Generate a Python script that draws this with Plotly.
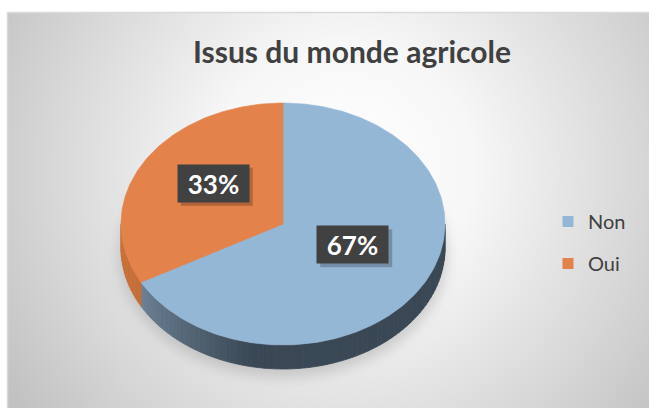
import math
import base64
import plotly.graph_objects as go

# ---------------- data ----------------
categories = ["Non", "Oui"]
values = [67, 33]
top_colors = ["#95b7d6", "#e3824a"]
title_text = "Issus du monde agricole"

# ---------------- geometry / style (pixel space) ----------------
W, H = 649, 408
CX, CY = 283.0, 224.0      # centre of the pie's top face
RX, RY = 162.0, 121.0      # ellipse radii of the top face
DEPTH = 24.0               # thickness of the 3-D pie
LABEL_FRAC = 0.5
LABEL_DY = -10.0

def pt(t_deg, dy=0.0, f=1.0):
    t = math.radians(t_deg)
    return CX + RX * f * math.sin(t), CY - RY * f * math.cos(t) + dy

def hex2rgb(h):
    h = h.lstrip("#")
    return tuple(int(h[i:i + 2], 16) for i in (0, 2, 4))

def mix(c1, c2, a):
    r1, r2 = hex2rgb(c1), hex2rgb(c2)
    return "#%02x%02x%02x" % tuple(round(r1[i] + (r2[i] - r1[i]) * a) for i in range(3))

total = float(sum(values))
bounds = []
acc = 0.0
for v in values:
    a0 = acc / total * 360.0
    acc += v
    bounds.append((a0, acc / total * 360.0))

fig = go.Figure()

# ---------------- background card (radial gradient, as svg image) ----------------
svg = f"""<svg xmlns='http://www.w3.org/2000/svg' width='{W}' height='{H}' viewBox='0 0 {W} {H}'>
<defs>
<radialGradient id='g' gradientUnits='userSpaceOnUse' cx='345' cy='170' r='400'>
<stop offset='0' stop-color='#ffffff'/>
<stop offset='0.32' stop-color='#f7f7f7'/>
<stop offset='0.75' stop-color='#d6d6d6'/>
<stop offset='1' stop-color='#c2c2c2'/>
</radialGradient>
<filter id='b' x='-30%' y='-30%' width='160%' height='160%'><feGaussianBlur stdDeviation='7'/></filter>
</defs>
<rect x='0' y='0' width='{W}' height='{H}' fill='#ffffff'/>
<rect x='7.5' y='12.5' width='{W}' height='{H}' fill='url(#g)' stroke='#dadada' stroke-width='1.5'/>
<ellipse cx='{CX}' cy='{CY + DEPTH + 6}' rx='{RX + 2}' ry='{RY + 2}' fill='#9a9a9a' fill-opacity='0.45' filter='url(#b)'/>
</svg>"""
src = "data:image/svg+xml;base64," + base64.b64encode(svg.encode()).decode()

# ---------------- pie side walls (visible lower half: 90..270 deg) ----------------
side_base = ["#3a4855", "#b5622c"]
side_light = ["#7990a5", "#c9713a"]
for i, (a0, a1) in enumerate(bounds):
    lo, hi = max(a0, 90.0), min(a1, 270.0)
    if hi <= lo:
        continue
    nseg = max(2, int((hi - lo) / 2))
    for s in range(nseg):
        t0 = lo + (hi - lo) * s / nseg
        t1 = lo + (hi - lo) * (s + 1) / nseg
        ts = [t0 + (t1 - t0) * k / 4 for k in range(5)]
        top = [pt(t) for t in ts]
        bot = [pt(t, DEPTH) for t in reversed(ts)]
        xs = [p[0] for p in top + bot] + [top[0][0]]
        ys = [p[1] for p in top + bot] + [top[0][1]]
        xm = pt((t0 + t1) / 2)[0]
        # lighter towards the left edge of the pie
        a = min(1.0, max(0.0, (xm - (CX - RX)) / 130.0))
        col = mix(side_light[i], side_base[i], a ** 0.8)
        fig.add_trace(go.Scatter(x=xs, y=ys, mode="lines", fill="toself",
                                 fillcolor=col, line=dict(color=col, width=0.8),
                                 hoverinfo="skip", showlegend=False,
                                 legendgroup=categories[i]))

# ---------------- pie top face ----------------
for i, (a0, a1) in enumerate(bounds):
    n = max(8, int(a1 - a0))
    ts = [a0 + (a1 - a0) * k / n for k in range(n + 1)]
    pts = [(CX, CY)] + [pt(t) for t in ts] + [(CX, CY)]
    fig.add_trace(go.Scatter(x=[p[0] for p in pts], y=[p[1] for p in pts],
                             mode="lines", fill="toself", fillcolor=top_colors[i],
                             line=dict(color=top_colors[i], width=0.6),
                             name=categories[i], legendgroup=categories[i],
                             showlegend=False, hoverinfo="text",
                             text=f"{categories[i]}: {values[i]}"))

# legend entries (square swatches)
for i, c in enumerate(categories):
    fig.add_trace(go.Scatter(x=[None], y=[None], mode="markers", name=c,
                             legendgroup=c,
                             marker=dict(symbol="square", size=11, color=top_colors[i])))

# ---------------- data labels ----------------
shapes = []
annotations = []
for i, (a0, a1) in enumerate(bounds):
    lx, ly = pt((a0 + a1) / 2, LABEL_DY, LABEL_FRAC)
    pct = f"{round(values[i] / total * 100)}%"
    shapes.append(dict(type="rect", xref="x", yref="y", layer="above",
                       x0=lx - 35.5 + 3, x1=lx + 35.5 + 4, y0=ly - 18.5 + 3, y1=ly + 18.5 + 4,
                       fillcolor="rgba(0,0,0,0.22)", line=dict(width=0)))
    annotations.append(dict(x=lx, y=ly, xref="x", yref="y", text=f"<b>{pct}</b>",
                            showarrow=False, width=71, height=37, bgcolor="#414141",
                            borderpad=0, font=dict(family="Lato", size=26, color="white"),
                            align="center", valign="middle"))

# legend box
shapes.append(dict(type="rect", xref="x", yref="y", layer="below",
                   x0=557, x1=637, y0=200, y1=283,
                   fillcolor="rgba(240,240,240,0.9)", line=dict(width=0)))

fig.update_layout(
    width=W, height=H, autosize=False,
    margin=dict(l=0, r=0, t=0, b=0),
    paper_bgcolor="white", plot_bgcolor="rgba(0,0,0,0)",
    xaxis=dict(range=[0, W], visible=False, fixedrange=True),
    yaxis=dict(range=[H, 0], visible=False, fixedrange=True),
    images=[dict(source=src, xref="x", yref="y", x=0, y=0, sizex=W, sizey=H,
                 xanchor="left", yanchor="top", sizing="stretch", layer="below")],
    title=dict(text=f"<b>{title_text}</b>", x=352 / W, xanchor="center",
               y=1 - 52 / H, yanchor="middle",
               font=dict(family="Lato", size=30, color="#404040")),
    legend=dict(x=548 / W, xanchor="left", y=1 - 202 / H, yanchor="top",
                bgcolor="rgba(0,0,0,0)", font=dict(family="Lato", size=20, color="#404040"),
                tracegroupgap=13, itemwidth=30),
    shapes=shapes,
    annotations=annotations,
    showlegend=True,
)

fig.write_html("out.html",
               config={"displayModeBar": False},
               post_script="document.body.style.margin='0px';"
                           "document.body.style.overflow='hidden';")
